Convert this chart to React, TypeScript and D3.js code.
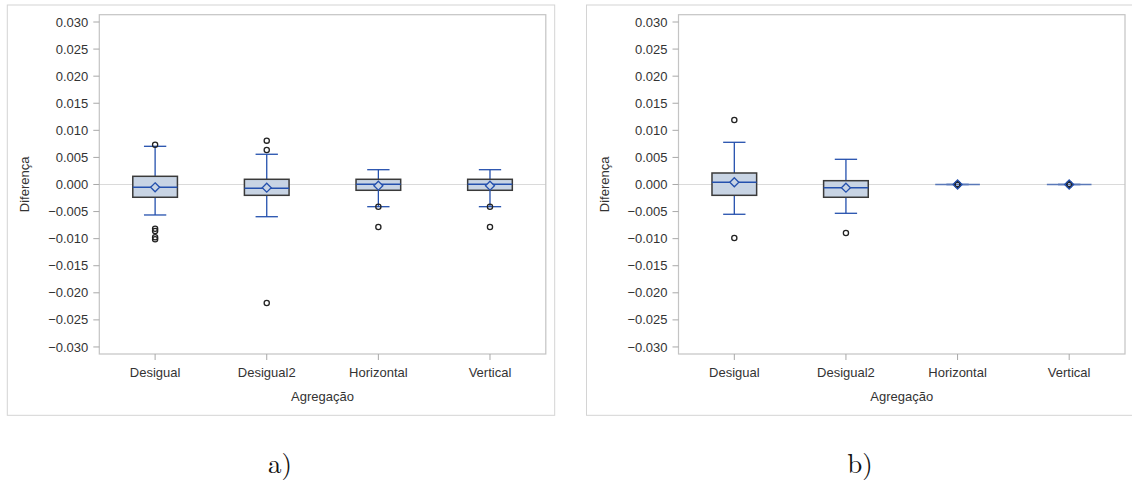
import React from "react";
import * as d3 from "d3";

// Categories of aggregation on the x axis
const categories = ["Desigual", "Desigual2", "Horizontal", "Vertical"];
const yTicks = [0.03, 0.025, 0.02, 0.015, 0.01, 0.005, 0, -0.005, -0.01, -0.015, -0.02, -0.025, -0.03];

// Panel a) box statistics
const lowA = [-0.00563, -0.00595, -0.0041, -0.0041];
const q1A = [-0.00236, -0.002, -0.00107, -0.00107];
const medianA = [-0.00052, -0.0007, 0.00004, 0.00004];
const q3A = [0.00151, 0.00096, 0.00096, 0.00096];
const highA = [0.00705, 0.00558, 0.00273, 0.00273];
const meanA = [-0.00052, -0.00059, -0.00022, -0.00022];
const outliersA = [
  [0.00735, -0.00816, -0.00859, -0.00975, -0.01012],
  [0.00809, 0.00637, -0.02188],
  [-0.0041, -0.00785],
  [-0.0041, -0.00785],
];

// Panel b) box statistics
const lowB = [-0.0055, -0.00532, 0, 0];
const q1B = [-0.002, -0.00236, 0, 0];
const medianB = [0.00041, -0.00059, 0, 0];
const q3B = [0.00212, 0.0007, 0, 0];
const highB = [0.00779, 0.00465, 0, 0];
const meanB = [0.00041, -0.00059, 0, 0];
const outliersB = [
  [0.01191, -0.00988],
  [-0.00896],
  [0.00003, -0.00003, 0],
  [0.00003, -0.00003, 0],
];

const FONT = "'Liberation Sans', Arial, sans-serif";
const BOX_FILL = "#c8d4e4";
const BOX_EDGE = "#3a3a3a";
const BLUE = "#2450ad";

type PanelProps = {
  ox: number; // left of outer frame
  outerW: number;
  low: number[];
  q1: number[];
  median: number[];
  q3: number[];
  high: number[];
  mean: number[];
  outliers: number[][];
};

function Panel({ ox, outerW, low, q1, median, q3, high, mean, outliers }: PanelProps) {
  const left = ox + 92;
  const right = ox + 538.5;
  const top = 14.7;
  const bottom = 354;
  const x = d3.scaleBand<string>().domain(categories).range([left, right]).padding(0);
  const y = d3.scaleLinear().domain([-0.0313, 0.03135]).range([bottom, top]);
  const bw = x.bandwidth();
  const boxW = bw * 0.4;
  const capW = bw * 0.2;
  const fmt = d3.format(".3f");

  return (
    <g>
      <rect x={ox} y={5} width={outerW} height={410.3} fill="#fff" stroke="#d4d4d4" strokeWidth={1} />
      {/* zero reference line */}
      <line x1={left} x2={right} y1={y(0)} y2={y(0)} stroke="#dadada" strokeWidth={1} />
      <rect x={left} y={top} width={right - left} height={bottom - top} fill="none" stroke="#c4c4c4" strokeWidth={1.2} />

      {/* y axis */}
      {yTicks.map((t) => (
        <g key={t}>
          <line x1={left - 6} x2={left} y1={y(t)} y2={y(t)} stroke="#a8a8a8" />
          <text x={left - 11} y={y(t)} dy="0.35em" textAnchor="end" fontSize={13} fill="#333" fontFamily={FONT}>
            {fmt(t).replace("-", "-")}
          </text>
        </g>
      ))}
      <text
        transform={`translate(${ox + 22},${(top + bottom) / 2}) rotate(-90)`}
        textAnchor="middle"
        fontSize={13}
        fill="#333"
        fontFamily={FONT}
      >
        Diferença
      </text>

      {/* x axis */}
      {categories.map((c) => {
        const cx = (x(c) as number) + bw / 2;
        return (
          <g key={c}>
            <line x1={cx} x2={cx} y1={bottom} y2={bottom + 6} stroke="#a8a8a8" />
            <text x={cx} y={377} textAnchor="middle" fontSize={13} fill="#333" fontFamily={FONT}>
              {c}
            </text>
          </g>
        );
      })}
      <text x={(left + right) / 2} y={401} textAnchor="middle" fontSize={13} fill="#333" fontFamily={FONT}>
        Agregação
      </text>

      {/* boxes */}
      {categories.map((c, i) => {
        const cx = (x(c) as number) + bw / 2;
        const flat = q1[i] === q3[i];
        const m = y(mean[i]);
        const r = 4.5;
        return (
          <g key={c}>
            <line x1={cx} x2={cx} y1={y(high[i])} y2={y(q3[i])} stroke={BLUE} strokeWidth={1.3} />
            <line x1={cx} x2={cx} y1={y(q1[i])} y2={y(low[i])} stroke={BLUE} strokeWidth={1.3} />
            <line x1={cx - capW / 2} x2={cx + capW / 2} y1={y(high[i])} y2={y(high[i])} stroke={BLUE} strokeWidth={1.3} />
            <line x1={cx - capW / 2} x2={cx + capW / 2} y1={y(low[i])} y2={y(low[i])} stroke={BLUE} strokeWidth={1.3} />
            {!flat && (
              <rect
                x={cx - boxW / 2}
                y={y(q3[i])}
                width={boxW}
                height={y(q1[i]) - y(q3[i])}
                fill={BOX_FILL}
                stroke={BOX_EDGE}
                strokeWidth={1.5}
              />
            )}
            <line
              x1={cx - boxW / 2}
              x2={cx + boxW / 2}
              y1={y(median[i])}
              y2={y(median[i])}
              stroke={flat ? "#5a78b8" : BLUE}
              strokeWidth={1.4}
            />
            {outliers[i].map((o, k) => (
              <circle key={k} cx={cx} cy={y(o)} r={2.6} fill="none" stroke="#222" strokeWidth={1.3} />
            ))}
            <path
              d={`M${cx},${m - r}L${cx + r},${m}L${cx},${m + r}L${cx - r},${m}Z`}
              fill={flat ? "none" : BOX_FILL}
              stroke={BLUE}
              strokeWidth={1.3}
            />
          </g>
        );
      })}
    </g>
  );
}

export default function App() {
  return (
    <div style={{ position: "absolute", left: 0, top: 0 }}>
      <svg width={1132} height={483} style={{ display: "block", background: "#fff" }}>
        <Panel ox={7.3} outerW={547.4} low={lowA} q1={q1A} median={medianA} q3={q3A} high={highA} mean={meanA} outliers={outliersA} />
        <Panel ox={586.5} outerW={547.4} low={lowB} q1={q1B} median={medianB} q3={q3B} high={highB} mean={meanB} outliers={outliersB} />
        <text x={280} y={473} textAnchor="middle" fontSize={27} fill="#111" fontFamily="'Latin Modern Roman', 'Liberation Serif', serif">
          a)
        </text>
        <text x={860} y={473} textAnchor="middle" fontSize={27} fill="#111" fontFamily="'Latin Modern Roman', 'Liberation Serif', serif">
          b)
        </text>
      </svg>
    </div>
  );
}
